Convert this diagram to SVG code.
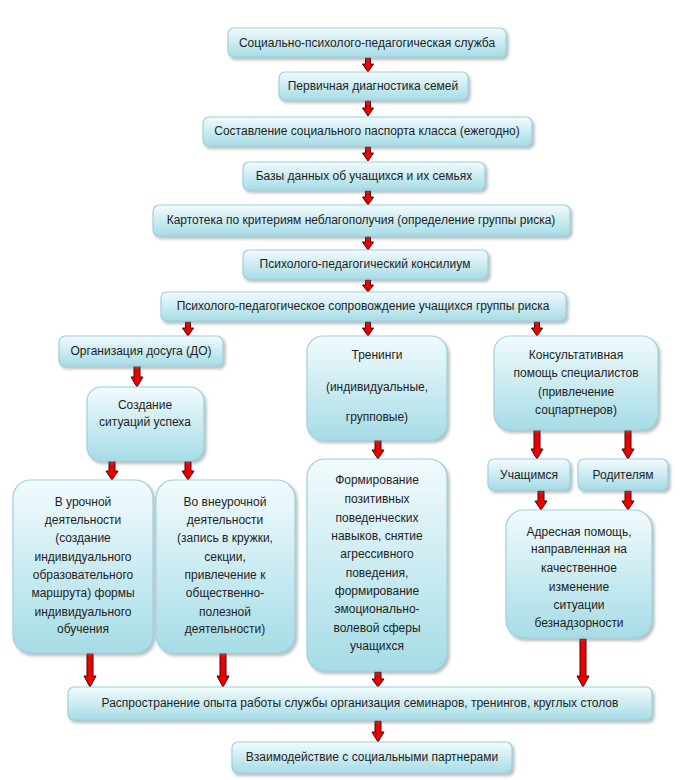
<svg xmlns="http://www.w3.org/2000/svg" width="680" height="780" viewBox="0 0 680 780">
<defs>
<linearGradient id="g" x1="0" y1="0" x2="0" y2="1">
<stop offset="0" stop-color="#f2fbfd"/>
<stop offset="1" stop-color="#a6dce6"/>
</linearGradient>
<filter id="sh" x="-10%" y="-10%" width="130%" height="140%">
<feDropShadow dx="2" dy="2.5" stdDeviation="1.5" flood-color="#5a6a70" flood-opacity="0.45"/>
</filter>
</defs>
<style>
.b{fill:url(#g);stroke:#9fd0dd;stroke-width:1.2;filter:url(#sh)}
text{font-family:"Liberation Sans",Arial,sans-serif;font-size:12px;fill:#1e1e1e;text-anchor:middle}
.a{fill:#ee0000;stroke:#4a0000;stroke-width:1}
</style>
<rect width="680" height="780" fill="#ffffff"/>
<g id="connectors">
<polygon class="a" points="365.5,58 370.5,58 370.5,64 373.5,64 368,72 362.5,64 365.5,64"/>
<polygon class="a" points="365.5,101 370.5,101 370.5,108 373.5,108 368,116 362.5,108 365.5,108"/>
<polygon class="a" points="365.5,147 370.5,147 370.5,153 373.5,153 368,161 362.5,153 365.5,153"/>
<polygon class="a" points="365.5,191 370.5,191 370.5,197 373.5,197 368,205 362.5,197 365.5,197"/>
<polygon class="a" points="365.5,237 370.5,237 370.5,242 373.5,242 368,250 362.5,242 365.5,242"/>
<polygon class="a" points="365.5,280 370.5,280 370.5,285 373.5,285 368,292 362.5,285 365.5,285"/>
<polygon class="a" points="185.5,322 190.5,322 190.5,328 193.5,328 188,336 182.5,328 185.5,328"/>
<polygon class="a" points="365.5,322 370.5,322 370.5,328 373.5,328 368,336 362.5,328 365.5,328"/>
<polygon class="a" points="534.5,322 539.5,322 539.5,328 542.5,328 537,336 531.5,328 534.5,328"/>
<polygon class="a" points="134,366 140,366 140,377 143,377 137,387 131,377 134,377"/>
<polygon class="a" points="109,461 115,461 115,471 118,471 112,480 106,471 109,471"/>
<polygon class="a" points="185,461 191,461 191,471 194,471 188,480 182,471 185,471"/>
<polygon class="a" points="375,440 381,440 381,450 384,450 378,459 372,450 375,450"/>
<polygon class="a" points="534,430 540,430 540,449 543,449 537,459 531,449 534,449"/>
<polygon class="a" points="625,430 631,430 631,449 634,449 628,459 622,449 625,449"/>
<polygon class="a" points="538,491 544,491 544,501 547,501 541,510 535,501 538,501"/>
<polygon class="a" points="625,491 631,491 631,501 634,501 628,510 622,501 625,501"/>
<polygon class="a" points="87,653 93,653 93,676 96,676 90,687 84,676 87,676"/>
<polygon class="a" points="220,653 226,653 226,676 229,676 223,687 217,676 220,676"/>
<polygon class="a" points="375,672 381,672 381,679 384,679 378,687 372,679 375,679"/>
<polygon class="a" points="580,639 586,639 586,676 589,676 583,687 577,676 580,676"/>
<polygon class="a" points="375,721 381,721 381,732 384,732 378,742 372,732 375,732"/>
</g>
<g id="n1"><rect class="b" x="228" y="28" width="278" height="29" rx="6"/><text x="367" y="47">Социально-психолого-педагогическая служба</text></g>
<g id="n2"><rect class="b" x="279" y="72" width="189" height="28" rx="6"/><text x="373" y="90">Первичная диагностика семей</text></g>
<g id="n3"><rect class="b" x="203" y="117" width="329" height="29" rx="6"/><text x="367" y="135">Составление социального паспорта класса (ежегодно)</text></g>
<g id="n4"><rect class="b" x="243" y="162" width="242" height="28" rx="6"/><text x="364" y="180">Базы данных об учащихся и их семьях</text></g>
<g id="n5"><rect class="b" x="153" y="205" width="417" height="31" rx="6"/><text x="361" y="224">Картотека по критериям неблагополучия (определение группы риска)</text></g>
<g id="n6"><rect class="b" x="243" y="250" width="245" height="29" rx="6"/><text x="365" y="268">Психолого-педагогический консилиум</text></g>
<g id="n7"><rect class="b" x="161" y="292" width="405" height="29" rx="6"/><text x="363" y="310">Психолого-педагогическое сопровождение учащихся группы риска</text></g>
<g id="n8"><rect class="b" x="59" y="336" width="164" height="30" rx="6"/><text x="141" y="355">Организация досуга (ДО)</text></g>
<g id="n9"><rect class="b" x="87" y="387" width="117" height="74" rx="14"/><text x="145" y="409">Создание</text><text x="145" y="426">ситуаций успеха</text></g>
<g id="n10"><rect class="b" x="307" y="336" width="140" height="104" rx="16"/><text x="377" y="359">Тренинги</text><text x="377" y="391">(индивидуальные,</text><text x="377" y="421">групповые)</text></g>
<g id="n11"><rect class="b" x="494" y="336" width="164" height="94" rx="16"/><text x="576" y="359">Консультативная</text><text x="576" y="377">помощь специалистов</text><text x="576" y="396">(привлечение</text><text x="576" y="414">соцпартнеров)</text></g>
<g id="n12"><rect class="b" x="488" y="459" width="82" height="31" rx="6"/><text x="529" y="479">Учащимся</text></g>
<g id="n13"><rect class="b" x="578" y="459" width="90" height="31" rx="6"/><text x="623" y="479">Родителям</text></g>
<g id="n14"><rect class="b" x="13" y="480" width="140" height="173" rx="18"/><text x="83" y="506">В урочной</text><text x="83" y="524">деятельности</text><text x="83" y="542">(создание</text><text x="83" y="561">индивидуального</text><text x="83" y="579">образовательного</text><text x="83" y="597">маршрута) формы</text><text x="83" y="616">индивидуального</text><text x="83" y="633">обучения</text></g>
<g id="n15"><rect class="b" x="156" y="480" width="139" height="173" rx="18"/><text x="225" y="506">Во внеурочной</text><text x="225" y="524">деятельности</text><text x="225" y="542">(запись в кружки,</text><text x="225" y="561">секции,</text><text x="225" y="579">привлечение к</text><text x="225" y="597">общественно-</text><text x="225" y="616">полезной</text><text x="225" y="633">деятельности)</text></g>
<g id="n16"><rect class="b" x="307" y="459" width="140" height="212" rx="18"/><text x="377" y="484">Формирование</text><text x="377" y="503">позитивных</text><text x="377" y="522">поведенческих</text><text x="377" y="540">навыков, снятие</text><text x="377" y="558">агрессивного</text><text x="377" y="577">поведения,</text><text x="377" y="595">формирование</text><text x="377" y="613">эмоционально-</text><text x="377" y="632">волевой сферы</text><text x="377" y="650">учащихся</text></g>
<g id="n17"><rect class="b" x="506" y="510" width="146" height="128" rx="18"/><text x="579" y="536">Адресная помощь,</text><text x="579" y="553">направленная на</text><text x="579" y="572">качественное</text><text x="579" y="591">изменение</text><text x="579" y="609">ситуации</text><text x="579" y="627">безнадзорности</text></g>
<g id="n18"><rect class="b" x="68" y="687" width="584" height="33" rx="6"/><text x="360" y="707">Распространение опыта работы службы организация семинаров, тренингов, круглых столов</text></g>
<g id="n19"><rect class="b" x="232" y="742" width="280" height="31" rx="6"/><text x="372" y="761">Взаимодействие с социальными партнерами</text></g>
</svg>
